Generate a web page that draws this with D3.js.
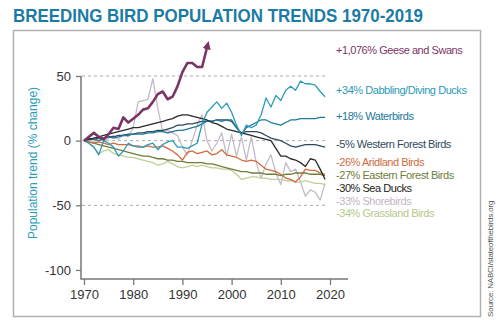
<!DOCTYPE html>
<html>
<head>
<meta charset="utf-8">
<script src="https://cdn.jsdelivr.net/npm/d3@7"></script>
<style>
  body { margin: 0; background: #fff; }
  svg { display: block; }
</style>
</head>
<body>
<script>
// years for the long series, geese stop early (line leaves the chart)
var years = d3.range(1970, 2020);
var geeseYears = d3.range(1970, 1996);

var geese = [0, 3, 6, 3, 1, 5, 10, 9, 18, 14, 17, 20, 24, 25, 30, 36, 38, 32, 34, 42,
  53, 60, 60, 57, 57, 72];

var dabblingDucks = [0, -2, -5, -11, 0, -2, -5, -12, -8, -2, -4, -5, -5, -3, -2, -7, -3, -1, 0, -5,
  -5, -6, -4, -2, 13, 22, 26, 30, 25, 29, 22, 12, 4, 12, 10, 12, 20, 33, 26, 35,
  31, 39, 42, 39, 46, 44, 44, 43, 38, 34];

var waterbirds = [0, 2, 1, 0, 2, 3, 2, 3, 4, 4, 5, 5, 5, 6, 6, 7, 7, 6, 7, 8,
  8, 9, 10, 11, 13, 15, 15, 16, 15, 16, 16, 10, 5, 10, 12, 14, 16, 16, 14, 13,
  12, 14, 16, 16, 17, 17, 17, 17, 18, 18];

var westernForest = [0, 1, 1, 2, 2, 3, 3, 4, 4, 5, 5, 6, 6, 7, 7, 8, 8, 9, 10, 12,
  12, 13, 13, 14, 15, 15, 15, 16, 16, 16, 15, 10, 6, 7, 7, 7, 6, 4, 2, 1,
  0, -2, -4, -5, -4, -3, -3, -3, -4, -5];

var aridland = [0, -1, -2, -1, -2, -3, -2, -3, -3, -3, -4, -4, -5, -4, -5, -5, -4, -6, -8, -11,
  -15, -9, -8, -10, -9, -8, -11, -10, -7, -11, -12, -13, -15, -16, -15, -16, -19, -22, -23, -24,
  -26, -29, -30, -32, -28, -22, -23, -23, -25, -26];

var easternForest = [0, -1, -2, -3, -4, -5, -6, -7, -8, -9, -10, -11, -12, -12, -13, -14, -14, -15, -15, -16,
  -16, -17, -17, -17, -17, -18, -18, -19, -20, -21, -22, -23, -24, -24, -25, -25, -25, -26, -26, -26,
  -27, -26, -26, -25, -25, -25, -26, -26, -26, -27];

var seaDucks = [0, 1, 2, 3, 4, 5, 6, 7, 8, 9, 10, 10, 11, 12, 13, 14, 15, 16, 17, 19,
  20, 20, 19, 18, 17, 16, 14, 13, 11, 9, 8, 7, 6, 5, 4, 3, 2, 1, 0, -6,
  -12, -12, -14, -15, -17, -20, -14, -15, -22, -30];

var shorebirds = [0, 2, -1, 3, 0, 2, 4, 1, 5, 3, 10, 30, 31, 32, 48, 25, 7, 8, 6, 4,
  -5, -11, 0, 12, 20, 0, -8, -2, 6, -12, 5, -12, 3, -15, 3, -17, -29, -18, -11, -25,
  -34, -17, -24, -22, -32, -43, -38, -40, -46, -33];

var grassland = [0, -2, -5, -10, -8, -7, -10, -11, -12, -13, -13, -14, -15, -16, -17, -19, -18, -16, -18, -20,
  -21, -20, -19, -20, -19, -20, -21, -21, -22, -22, -23, -26, -30, -29, -28, -28, -29, -29, -30, -30,
  -30, -31, -31, -32, -32, -31, -32, -33, -33, -34];

var labels = ["+1,076% Geese and Swans", "+34% Dabbling/Diving Ducks", "+18% Waterbirds",
  "-5% Western Forest Birds", "-26% Aridland Birds", "-27% Eastern Forest Birds",
  "-30% Sea Ducks", "-33% Shorebirds", "-34% Grassland Birds"];

var yTicks = [50, 0, -50, -100];
var xTicks = [1970, 1980, 1990, 2000, 2010, 2020];

// drawing order: light lines underneath, geese on top
var series = [
  {key: "shore", values: shorebirds, years: years, color: "#c6bac9"},
  {key: "grass", values: grassland, years: years, color: "#bfd097"},
  {key: "eastern", values: easternForest, years: years, color: "#6e7d3c"},
  {key: "arid", values: aridland, years: years, color: "#d06b3d"},
  {key: "western", values: westernForest, years: years, color: "#2e4b5e"},
  {key: "water", values: waterbirds, years: years, color: "#21789a"},
  {key: "sea", values: seaDucks, years: years, color: "#2a2a2a"},
  {key: "ducks", values: dabblingDucks, years: years, color: "#2c9ab7"},
  {key: "geese", values: geese, years: geeseYears, color: "#7a3566"}
];
var labelColors = ["#7a3566", "#2c9ab7", "#21789a", "#2e4b5e", "#d06b3d", "#6e7d3c", "#222222", "#c6b4c6", "#b3c98a"];
// label baselines, stacked to the right of the line ends
var labelY = [54, 94, 120, 148, 166, 179, 192, 205, 217];

var width = 500, height = 331;

var svg = d3.select("body").append("svg")
    .attr("width", width)
    .attr("height", height);

// outer frame
svg.append("rect")
    .attr("x", 13.5).attr("y", 30.5)
    .attr("width", 467).attr("height", 286)
    .attr("fill", "none")
    .attr("stroke", "#b0b0b0")
    .attr("stroke-width", 1.5);

svg.append("text")
    .attr("x", 13).attr("y", 22)
    .attr("font-family", "Liberation Sans, Arial, sans-serif")
    .attr("font-weight", 700)
    .attr("font-size", "17.5px")
    .attr("fill", "#1b7ba5")
    .attr("textLength", 410)
    .attr("lengthAdjust", "spacingAndGlyphs")
    .text("BREEDING BIRD POPULATION TRENDS 1970-2019");

var x = d3.scaleLinear().domain([1970, 2020]).range([84, 330]);
var y = d3.scaleLinear().domain([-107, 50]).range([279, 76]);

// dashed reference lines
svg.append("g").selectAll("line")
    .data([50, 0, -50])
    .enter().append("line")
    .attr("x1", 82).attr("x2", 325)
    .attr("y1", function(d) { return y(d); })
    .attr("y2", function(d) { return y(d); })
    .attr("stroke", "#aaaaaa")
    .attr("stroke-width", 1)
    .attr("stroke-dasharray", "3,3");

var fmt = function(d) { return String(d); };

var yAxis = svg.append("g")
    .attr("transform", "translate(81,0)")
    .call(d3.axisLeft(y).tickValues(yTicks).tickFormat(fmt).tickSize(5).tickPadding(5));

var xAxis = svg.append("g")
    .attr("transform", "translate(0,279)")
    .call(d3.axisBottom(x).tickValues(xTicks).tickFormat(fmt).tickSize(6).tickPadding(5));

[yAxis, xAxis].forEach(function(g) {
  g.select(".domain").remove();
  g.selectAll(".tick line").attr("stroke", "#777").attr("stroke-width", 1.3);
  g.selectAll(".tick text")
      .attr("font-family", "Liberation Sans, Arial, sans-serif")
      .attr("font-size", "13px")
      .attr("fill", "#333");
});

// axis lines drawn as one corner
svg.append("path")
    .attr("d", "M81," + y(50) + "V279H348")
    .attr("fill", "none")
    .attr("stroke", "#777")
    .attr("stroke-width", 1.5);

svg.append("text")
    .attr("transform", "translate(37,163) rotate(-90)")
    .attr("text-anchor", "middle")
    .attr("font-family", "Liberation Sans, Arial, sans-serif")
    .attr("font-size", "12px")
    .attr("fill", "#2a9dbb")
    .text("Population trend (% change)");

svg.append("defs").append("marker")
    .attr("id", "arrow")
    .attr("viewBox", "0 0 10 10")
    .attr("refX", 2).attr("refY", 5)
    .attr("markerWidth", 3.2).attr("markerHeight", 3.2)
    .attr("orient", "auto")
    .attr("markerUnits", "strokeWidth")
  .append("path")
    .attr("d", "M0,0L10,5L0,10z")
    .attr("fill", "#7a3566");

var line = d3.line()
    .x(function(d) { return x(d[0]); })
    .y(function(d) { return y(d[1]); });

svg.append("g").selectAll("path")
    .data(series)
    .enter().append("path")
    .attr("d", function(s) { return line(d3.zip(s.years, s.values)); })
    .attr("fill", "none")
    .attr("stroke", function(s) { return s.color; })
    .attr("stroke-width", function(s) { return s.key === "geese" ? 2.6 : 1.3; })
    .attr("stroke-linejoin", "round")
    .attr("marker-end", function(s) { return s.key === "geese" ? "url(#arrow)" : null; });

svg.append("g").selectAll("text")
    .data(labels)
    .enter().append("text")
    .attr("x", 336)
    .attr("y", function(d, i) { return labelY[i]; })
    .attr("font-family", "Liberation Sans, Arial, sans-serif")
    .attr("font-size", "11px")
    .attr("letter-spacing", "-0.45px")
    .attr("fill", function(d, i) { return labelColors[i]; })
    .text(function(d) { return d; });

svg.append("text")
    .attr("transform", "translate(493,317) rotate(-90)")
    .attr("font-family", "Liberation Sans, Arial, sans-serif")
    .attr("font-size", "8px")
    .attr("letter-spacing", "-0.2px")
    .attr("fill", "#555")
    .text("Source: NABCI/stateofthebirds.org");
</script>
</body>
</html>
